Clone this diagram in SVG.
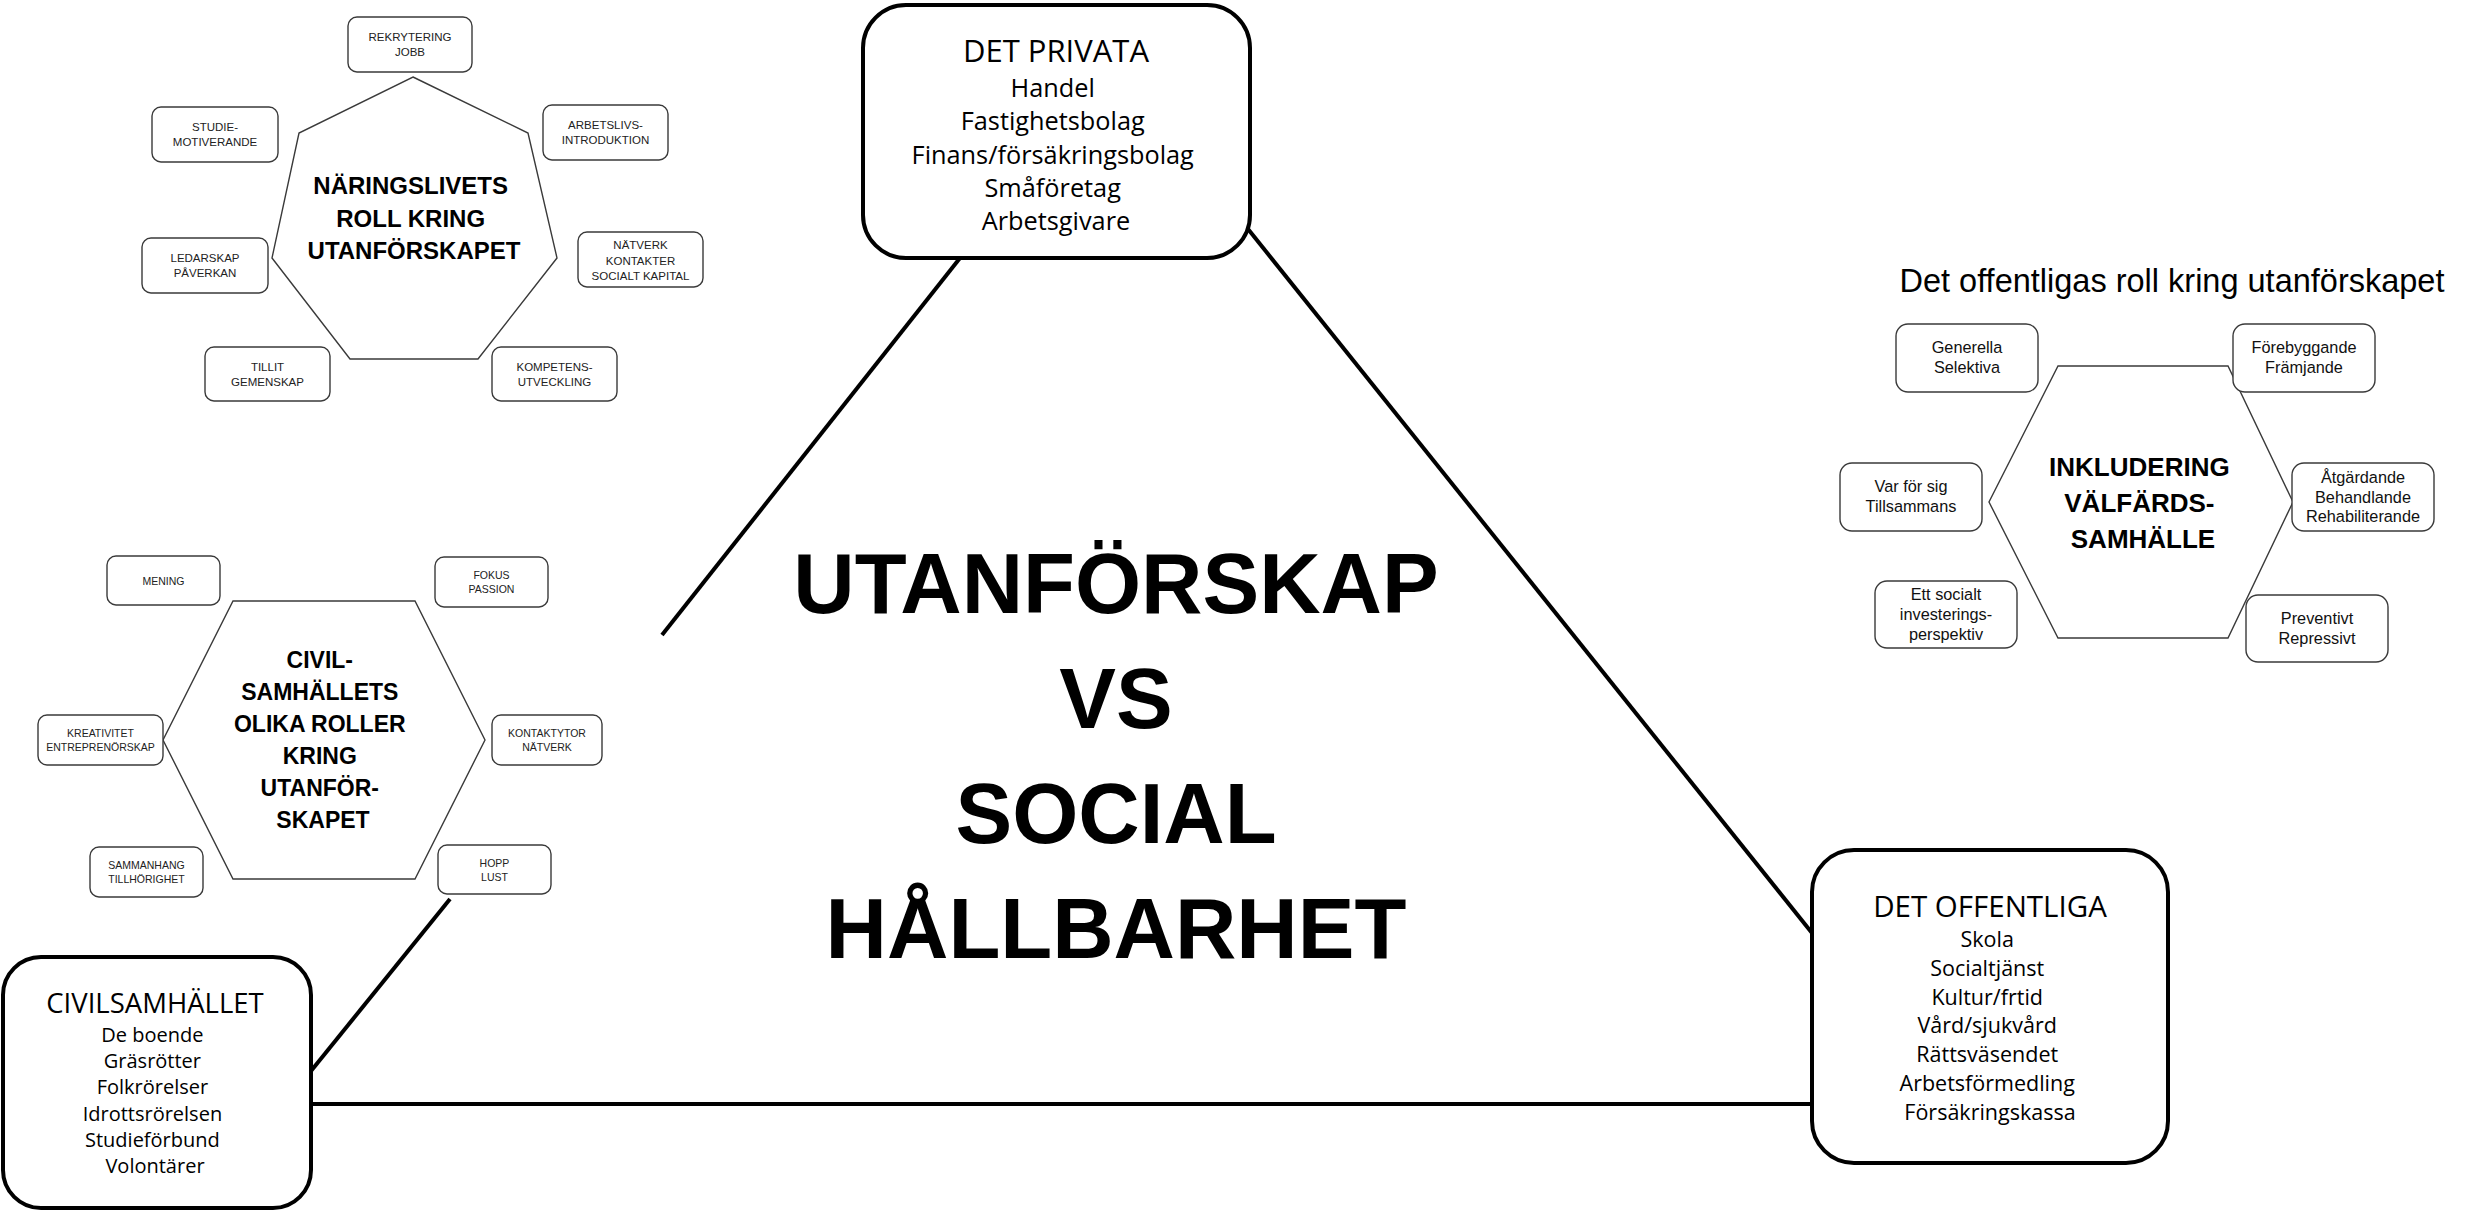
<svg xmlns="http://www.w3.org/2000/svg" width="2478" height="1210" viewBox="0 0 2478 1210">
<style>
.bg{fill:#fff}
.big{fill:#fff;stroke:#000;stroke-width:4}
.sm{fill:#fff;stroke:#3a3a3a;stroke-width:1.4}
.poly{fill:#fff;stroke:#3a3a3a;stroke-width:1.4}
.conn{stroke:#000;stroke-width:4;fill:none;stroke-linecap:butt}
.bt{font-family:"Open Sans","Liberation Sans",sans-serif;fill:#000;text-anchor:middle}
.cap{font-family:"Liberation Sans",Arial,sans-serif;fill:#222;text-anchor:middle}
.hb{font-family:"Liberation Sans",Arial,sans-serif;font-weight:bold;fill:#000;text-anchor:middle}
.rt{font-family:"Liberation Sans",Arial,sans-serif;fill:#111;text-anchor:middle;font-size:16.3px}
.n{font-size:11.5px}
.c{font-size:10.5px}
</style>
<rect class="bg" x="0" y="0" width="2478" height="1210"/>

<g id="connectors">
  <line class="conn" x1="960" y1="258" x2="662" y2="635"/>
  <line class="conn" x1="450" y1="899" x2="311" y2="1071"/>
  <line class="conn" x1="1248" y1="229" x2="1812" y2="933"/>
  <line class="conn" x1="311" y1="1104" x2="1812" y2="1104"/>
</g>

<g id="center-title">
  <text class="hb" font-size="85" x="1116" y="613">UTANFÖRSKAP</text>
  <text class="hb" font-size="85" x="1116" y="728">VS</text>
  <text class="hb" font-size="85" x="1116" y="843">SOCIAL</text>
  <text class="hb" font-size="85" x="1116" y="958">HÅLLBARHET</text>
</g>

<g id="det-privata">
  <rect class="big" x="863" y="5" width="387" height="253" rx="43"/>
  <text class="bt" font-size="31" x="1056" y="62">DET PRIVATA</text>
  <text class="bt" font-size="25.3">
    <tspan x="1056" y="97">Handel</tspan>
    <tspan x="1056" y="130">Fastighetsbolag</tspan>
    <tspan x="1056" y="164">Finans/försäkringsbolag</tspan>
    <tspan x="1056" y="197">Småföretag</tspan>
    <tspan x="1056" y="230">Arbetsgivare</tspan>
  </text>
</g>

<g id="det-offentliga">
  <rect class="big" x="1812" y="850" width="356" height="313" rx="42"/>
  <text class="bt" font-size="29.5" x="1990" y="917">DET OFFENTLIGA</text>
  <text class="bt" font-size="21.5">
    <tspan x="1990" y="947">Skola</tspan>
    <tspan x="1990" y="976">Socialtjänst</tspan>
    <tspan x="1990" y="1005">Kultur/frtid</tspan>
    <tspan x="1990" y="1033">Vård/sjukvård</tspan>
    <tspan x="1990" y="1062">Rättsväsendet</tspan>
    <tspan x="1990" y="1091">Arbetsförmedling</tspan>
    <tspan x="1990" y="1120">Försäkringskassa</tspan>
  </text>
</g>

<g id="civilsamhallet">
  <rect class="big" x="3" y="957" width="308" height="251" rx="38"/>
  <text class="bt" font-size="27.5" x="155" y="1013">CIVILSAMHÄLLET</text>
  <text class="bt" font-size="20">
    <tspan x="155" y="1042">De boende</tspan>
    <tspan x="155" y="1068">Gräsrötter</tspan>
    <tspan x="155" y="1094">Folkrörelser</tspan>
    <tspan x="155" y="1121">Idrottsrörelsen</tspan>
    <tspan x="155" y="1147">Studieförbund</tspan>
    <tspan x="155" y="1173">Volontärer</tspan>
  </text>
</g>

<g id="naringslivets-roll">
  <polygon class="poly" points="413,77 528,133 557,258 478,359 350,359 272,258 299,133"/>
  <text class="hb" font-size="24">
    <tspan x="414" y="194">NÄRINGSLIVETS</tspan>
    <tspan x="414" y="227">ROLL KRING</tspan>
    <tspan x="414" y="259">UTANFÖRSKAPET</tspan>
  </text>
</g>
<g id="n-rekrytering">
  <rect class="sm" x="348" y="17" width="124" height="55" rx="9"/>
  <text class="cap n"><tspan x="410" y="41">REKRYTERING</tspan><tspan x="410" y="56">JOBB</tspan></text>
</g>
<g id="n-studie">
  <rect class="sm" x="152" y="107" width="126" height="55" rx="9"/>
  <text class="cap n"><tspan x="215" y="131">STUDIE-</tspan><tspan x="215" y="146">MOTIVERANDE</tspan></text>
</g>
<g id="n-arbetslivs">
  <rect class="sm" x="543" y="105" width="125" height="55" rx="9"/>
  <text class="cap n"><tspan x="605.5" y="129">ARBETSLIVS-</tspan><tspan x="605.5" y="144">INTRODUKTION</tspan></text>
</g>
<g id="n-natverk">
  <rect class="sm" x="578" y="232" width="125" height="55" rx="9"/>
  <text class="cap n"><tspan x="640.5" y="249">NÄTVERK</tspan><tspan x="640.5" y="264.5">KONTAKTER</tspan><tspan x="640.5" y="280">SOCIALT KAPITAL</tspan></text>
</g>
<g id="n-ledarskap">
  <rect class="sm" x="142" y="238" width="126" height="55" rx="9"/>
  <text class="cap n"><tspan x="205" y="262">LEDARSKAP</tspan><tspan x="205" y="277">PÅVERKAN</tspan></text>
</g>
<g id="n-tillit">
  <rect class="sm" x="205" y="347" width="125" height="54" rx="9"/>
  <text class="cap n"><tspan x="267.5" y="370.5">TILLIT</tspan><tspan x="267.5" y="385.5">GEMENSKAP</tspan></text>
</g>
<g id="n-kompetens">
  <rect class="sm" x="492" y="347" width="125" height="54" rx="9"/>
  <text class="cap n"><tspan x="554.5" y="370.5">KOMPETENS-</tspan><tspan x="554.5" y="385.5">UTVECKLING</tspan></text>
</g>

<g id="civil-roller">
  <polygon class="poly" points="233,601 415,601 485,740 415,879 233,879 163,740"/>
  <text class="hb" font-size="23">
    <tspan x="323" y="668">CIVIL-</tspan>
    <tspan x="323" y="700">SAMHÄLLETS</tspan>
    <tspan x="323" y="732">OLIKA ROLLER</tspan>
    <tspan x="323" y="764">KRING</tspan>
    <tspan x="323" y="796">UTANFÖR-</tspan>
    <tspan x="323" y="828">SKAPET</tspan>
  </text>
</g>
<g id="c-mening">
  <rect class="sm" x="107" y="556" width="113" height="49" rx="9"/>
  <text class="cap c" x="163.5" y="584.5">MENING</text>
</g>
<g id="c-fokus">
  <rect class="sm" x="435" y="557" width="113" height="50" rx="9"/>
  <text class="cap c"><tspan x="491.5" y="579">FOKUS</tspan><tspan x="491.5" y="593">PASSION</tspan></text>
</g>
<g id="c-kreativitet">
  <rect class="sm" x="38" y="715" width="125" height="50" rx="9"/>
  <text class="cap c"><tspan x="100.5" y="737">KREATIVITET</tspan><tspan x="100.5" y="751">ENTREPRENÖRSKAP</tspan></text>
</g>
<g id="c-kontaktytor">
  <rect class="sm" x="492" y="715" width="110" height="50" rx="9"/>
  <text class="cap c"><tspan x="547" y="737">KONTAKTYTOR</tspan><tspan x="547" y="751">NÄTVERK</tspan></text>
</g>
<g id="c-sammanhang">
  <rect class="sm" x="90" y="847" width="113" height="50" rx="9"/>
  <text class="cap c"><tspan x="146.5" y="869">SAMMANHANG</tspan><tspan x="146.5" y="883">TILLHÖRIGHET</tspan></text>
</g>
<g id="c-hopp">
  <rect class="sm" x="438" y="845" width="113" height="49" rx="9"/>
  <text class="cap c"><tspan x="494.5" y="866.5">HOPP</tspan><tspan x="494.5" y="880.5">LUST</tspan></text>
</g>

<g id="offentligas-roll">
  <text font-family="Liberation Sans, Arial, sans-serif" font-size="32.5" fill="#000" text-anchor="middle" x="2172" y="292">Det offentligas roll kring utanförskapet</text>
  <polygon class="poly" points="2058,366 2228,366 2293,502 2228,638 2058,638 1989,502"/>
  <text class="hb" font-size="26">
    <tspan x="2143" y="476">INKLUDERING</tspan>
    <tspan x="2143" y="512">VÄLFÄRDS-</tspan>
    <tspan x="2143" y="548">SAMHÄLLE</tspan>
  </text>
</g>
<g id="o-generella">
  <rect class="sm" x="1896" y="324" width="142" height="68" rx="12"/>
  <text class="rt"><tspan x="1967" y="353">Generella</tspan><tspan x="1967" y="373">Selektiva</tspan></text>
</g>
<g id="o-forebyggande">
  <rect class="sm" x="2233" y="324" width="142" height="68" rx="12"/>
  <text class="rt"><tspan x="2304" y="353">Förebyggande</tspan><tspan x="2304" y="373">Främjande</tspan></text>
</g>
<g id="o-varforsig">
  <rect class="sm" x="1840" y="463" width="142" height="68" rx="12"/>
  <text class="rt"><tspan x="1911" y="492">Var för sig</tspan><tspan x="1911" y="512">Tillsammans</tspan></text>
</g>
<g id="o-atgardande">
  <rect class="sm" x="2292" y="463" width="142" height="68" rx="12"/>
  <text class="rt"><tspan x="2363" y="483">Åtgärdande</tspan><tspan x="2363" y="503">Behandlande</tspan><tspan x="2363" y="522">Rehabiliterande</tspan></text>
</g>
<g id="o-socialt">
  <rect class="sm" x="1875" y="581" width="142" height="67" rx="12"/>
  <text class="rt"><tspan x="1946" y="600">Ett socialt</tspan><tspan x="1946" y="620">investerings-</tspan><tspan x="1946" y="640">perspektiv</tspan></text>
</g>
<g id="o-preventivt">
  <rect class="sm" x="2246" y="595" width="142" height="67" rx="12"/>
  <text class="rt"><tspan x="2317" y="624">Preventivt</tspan><tspan x="2317" y="644">Repressivt</tspan></text>
</g>
</svg>
